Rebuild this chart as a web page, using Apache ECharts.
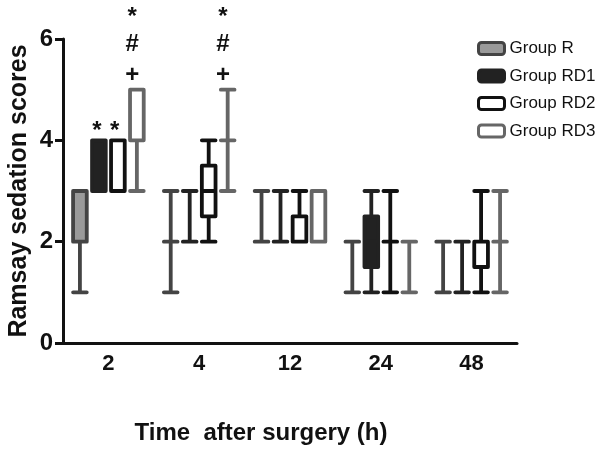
<!DOCTYPE html>
<html>
<head>
<meta charset="utf-8">
<script src="https://cdn.jsdelivr.net/npm/echarts@6/dist/echarts.min.js"></script>
<style>
html,body{margin:0;padding:0;background:#fff;}
#chart{width:602px;height:453px;}
</style>
</head>
<body>
<div id="chart"></div>
<script>
// ---- data ----
var categories = ['2', '4', '12', '24', '48'];
var groupNames = ['Group R', 'Group RD1', 'Group RD2', 'Group RD3'];
// [min, Q1, median, Q3, max]
var groupR   = [[1,2,2,3,3],[1,2,2,2,3],[2,2,2,2,3],[1,2,2,2,2],[1,2,2,2,2]];
var groupRD1 = [[3,3,4,4,4],[2,2,2,2,3],[2,2,2,2,3],[1,1.5,2,2.5,3],[1,2,2,2,2]];
var groupRD2 = [[3,3,4,4,4],[2,2.5,3,3.5,4],[2,2,2,2.5,3],[1,2,2,2,3],[1,1.5,2,2,3]];
var groupRD3 = [[3,4,4,5,5],[3,4,4,4,5],[2,2,2,3,3],[1,2,2,2,2],[1,2,2,2,3]];
var yTicks = [0, 2, 4, 6];
// significance marks
var annotCat   = [0, 0, 0, 0, 0, 1, 1, 1];
var annotGroup = [1, 2, 3, 3, 3, 3, 3, 3];
var annotValue = [4.17, 4.17, 6.42, 5.90, 5.29, 6.42, 5.90, 5.29];
var annotText  = ['*', '*', '*', '#', '+', '*', '#', '+'];

var fills   = ['#9a9a9a', '#222222', '#ffffff', '#ffffff'];
var borders = ['#444444', '#222222', '#111111', '#666666'];
var groups  = [groupR, groupRD1, groupRD2, groupRD3];
var FONT = '"Liberation Sans", Arial, Helvetica, sans-serif';

var chart = echarts.init(document.getElementById('chart'), null, {renderer: 'canvas'});

var series = groups.map(function (g, i) {
  return {
    name: groupNames[i],
    type: 'boxplot',
    data: g,
    itemStyle: {
      color: fills[i],
      borderColor: borders[i],
      borderWidth: 3.8,
      borderCap: 'round',
      borderJoin: 'round'
    },
    emphasis: {disabled: true},
    z: 2
  };
});

var annotData = annotCat.map(function (c, i) { return [c, annotValue[i], annotGroup[i]]; });

series.push({
  name: 'marks',
  type: 'custom',
  clip: false,
  silent: true,
  data: annotData,
  encode: {x: 0, y: 1},
  renderItem: function (params, api) {
    var p = api.coord([api.value(0), api.value(1)]);
    var band = api.size([1, 0])[0];
    var n = groups.length;
    var avail = band * 0.8 - 2;
    var step = avail / n;
    var bw = step * 0.7;
    var off = bw / 2 - avail / 2 + api.value(2) * step;
    var t = annotText[params.dataIndex];
    return {
      type: 'text',
      x: p[0] + off,
      y: p[1],
      style: {
        text: t,
        fill: '#111',
        font: 'bold 24px ' + FONT,
        align: 'center',
        verticalAlign: 'middle'
      }
    };
  },
  z: 5
});

chart.setOption({
  animation: false,
  backgroundColor: '#fff',
  grid: {left: 63, right: 85, top: 39, bottom: 110, containLabel: false, outerBoundsMode: 'none'},
  legend: {
    orient: 'vertical',
    left: 472,
    top: 35,
    itemWidth: 26,
    itemHeight: 12,
    itemGap: 10.5,
    itemTextGap: 7,
    selectedMode: false,
    textStyle: {fontFamily: FONT, fontSize: 17, color: '#111'},
    data: groupNames.map(function (n, i) {
      return {
        name: n,
        icon: 'roundRect',
        itemStyle: {color: fills[i], borderColor: borders[i], borderWidth: 3}
      };
    })
  },
  xAxis: {
    type: 'category',
    data: categories,
    boundaryGap: true,
    name: 'Time  after surgery (h)',
    nameLocation: 'middle',
    nameGap: 78,
    nameMoveOverlap: false,
    nameTextStyle: {fontFamily: FONT, fontSize: 24, fontWeight: 'bold', color: '#111', padding: [0, 58, 0, 0]},
    axisLine: {lineStyle: {color: '#111', width: 3}},
    axisTick: {show: false},
    axisLabel: {fontFamily: FONT, fontSize: 22, fontWeight: 'bold', color: '#111', margin: 10},
    splitLine: {show: false}
  },
  yAxis: {
    type: 'value',
    min: yTicks[0],
    max: yTicks[yTicks.length - 1],
    interval: 2,
    name: 'Ramsay sedation scores',
    nameLocation: 'middle',
    nameGap: 31,
    nameMoveOverlap: false,
    nameTextStyle: {fontFamily: FONT, fontSize: 25, fontWeight: 'bold', color: '#111'},
    axisLine: {show: true, lineStyle: {color: '#111', width: 3}},
    axisTick: {show: true, length: 8, lineStyle: {color: '#111', width: 3}},
    axisLabel: {fontFamily: FONT, fontSize: 24, fontWeight: 'bold', color: '#111', margin: 10},
    splitLine: {show: false}
  },
  series: series
});
</script>
</body>
</html>
